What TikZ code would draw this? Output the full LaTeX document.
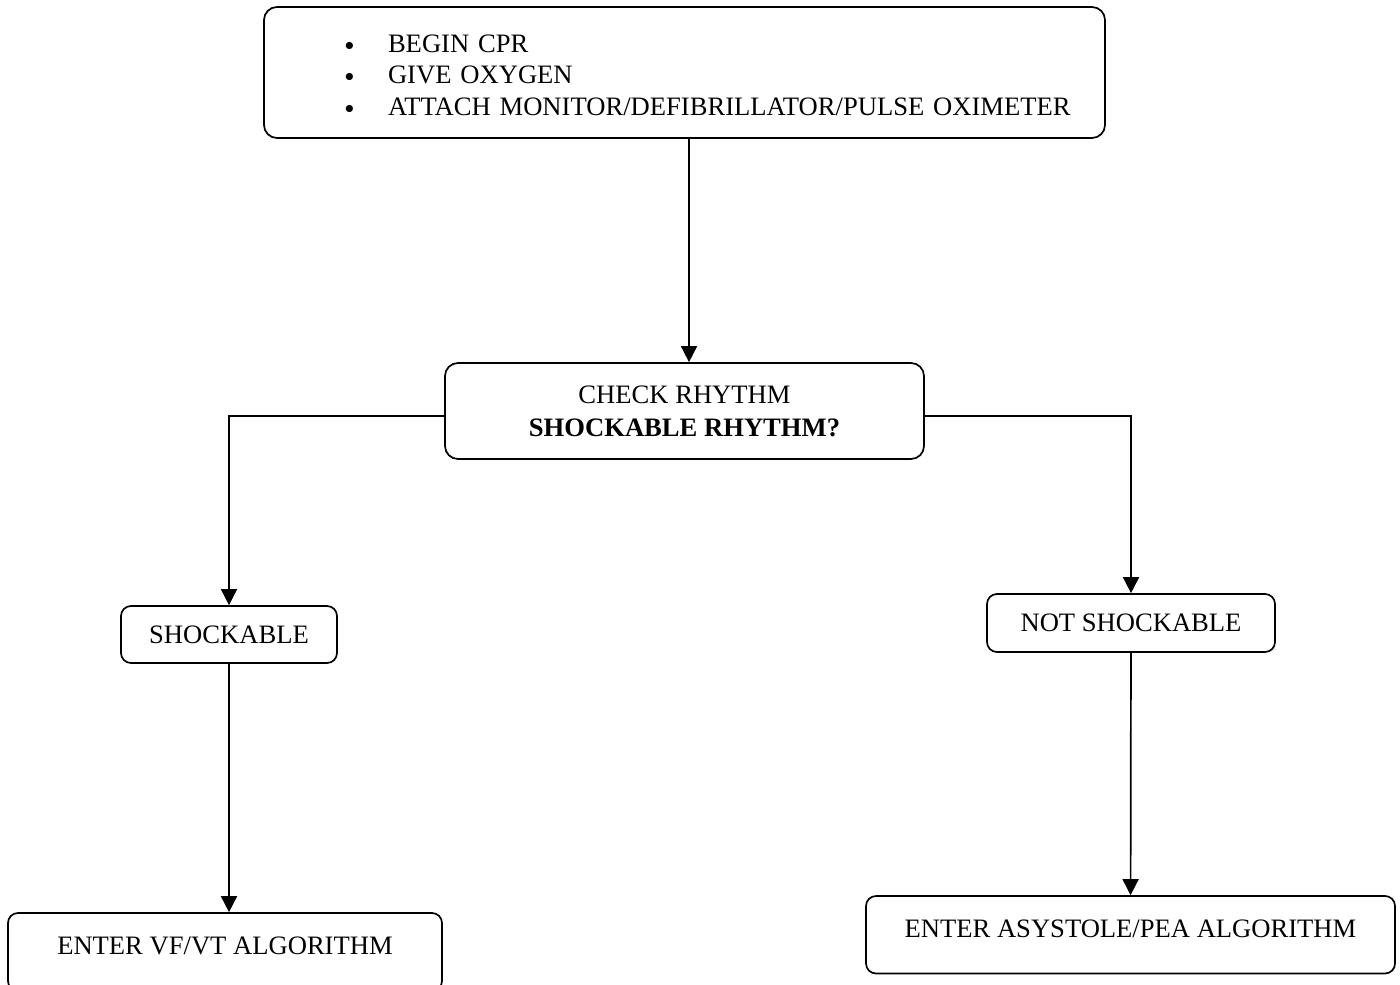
\documentclass[tikz,border=0pt]{standalone}
\usepackage{fontspec}
\setmainfont{Liberation Serif}
\usepackage{enumitem}
\usetikzlibrary{arrows.meta}

\begin{document}
\begin{tikzpicture}[x=0.5pt, y=-0.5pt, line width=0.85pt, >={Triangle[width=8pt,length=8pt]},
	box node/.style={draw, rounded corners=5pt, align=center, inner sep=0pt, font=\fontsize{13.3}{15.75}\selectfont},
	algo node/.style={box node, text height=8.6pt, text depth=6pt}]
	\useasboundingbox (0,0) rectangle (1400,984);

	\node[box node, rounded corners=6.5pt, minimum width=420.5pt, minimum height=65.5pt, text width=420.5pt, text height=0pt, text depth=51.5pt, align=left] (care) at (684.5,72.5) {
		\begin{itemize}[nosep, leftmargin=62pt, labelsep=17pt, label={\raisebox{1.2pt}{\fontsize{9.5}{9.5}\selectfont$\bullet$}}]
			\item BEGIN CPR
			\item GIVE OXYGEN
			\item ATTACH MONITOR/DEFIBRILLATOR/PULSE OXIMETER
		\end{itemize}};
	\node[box node, rounded corners=6.5pt, minimum width=239.5pt, minimum height=48pt] (check) at (684.5,411) {CHECK RHYTHM\\[0.75pt]\textbf{SHOCKABLE RHYTHM?}};
	\node[box node, minimum width=108pt, minimum height=28.5pt] (shock) at (229,634.5) {SHOCKABLE};
	\node[box node, minimum width=144pt, minimum height=29pt] (noshock) at (1131,623) {NOT SHOCKABLE};
	\node[algo node, minimum width=217pt, minimum height=39pt] (vfvt) at (225,952) {ENTER VF/VT ALGORITHM};
	\node[algo node, minimum width=264.5pt, minimum height=38.75pt] (asys) at (1130.5,934.75) {ENTER ASYSTOLE/PEA ALGORITHM};

	\draw[->] ([xshift=2.25pt]care.south) -- ([xshift=2.25pt]check.north);
	\draw[->] ([yshift=-2.5pt]check.west) -| (shock.north);
	\draw[->] ([yshift=-2.5pt]check.east) -| (noshock.north);
	\draw[->] (shock.south) -- (shock.south |- vfvt.north);
	\draw[->] (noshock) -- (asys);
\end{tikzpicture}
\end{document}
